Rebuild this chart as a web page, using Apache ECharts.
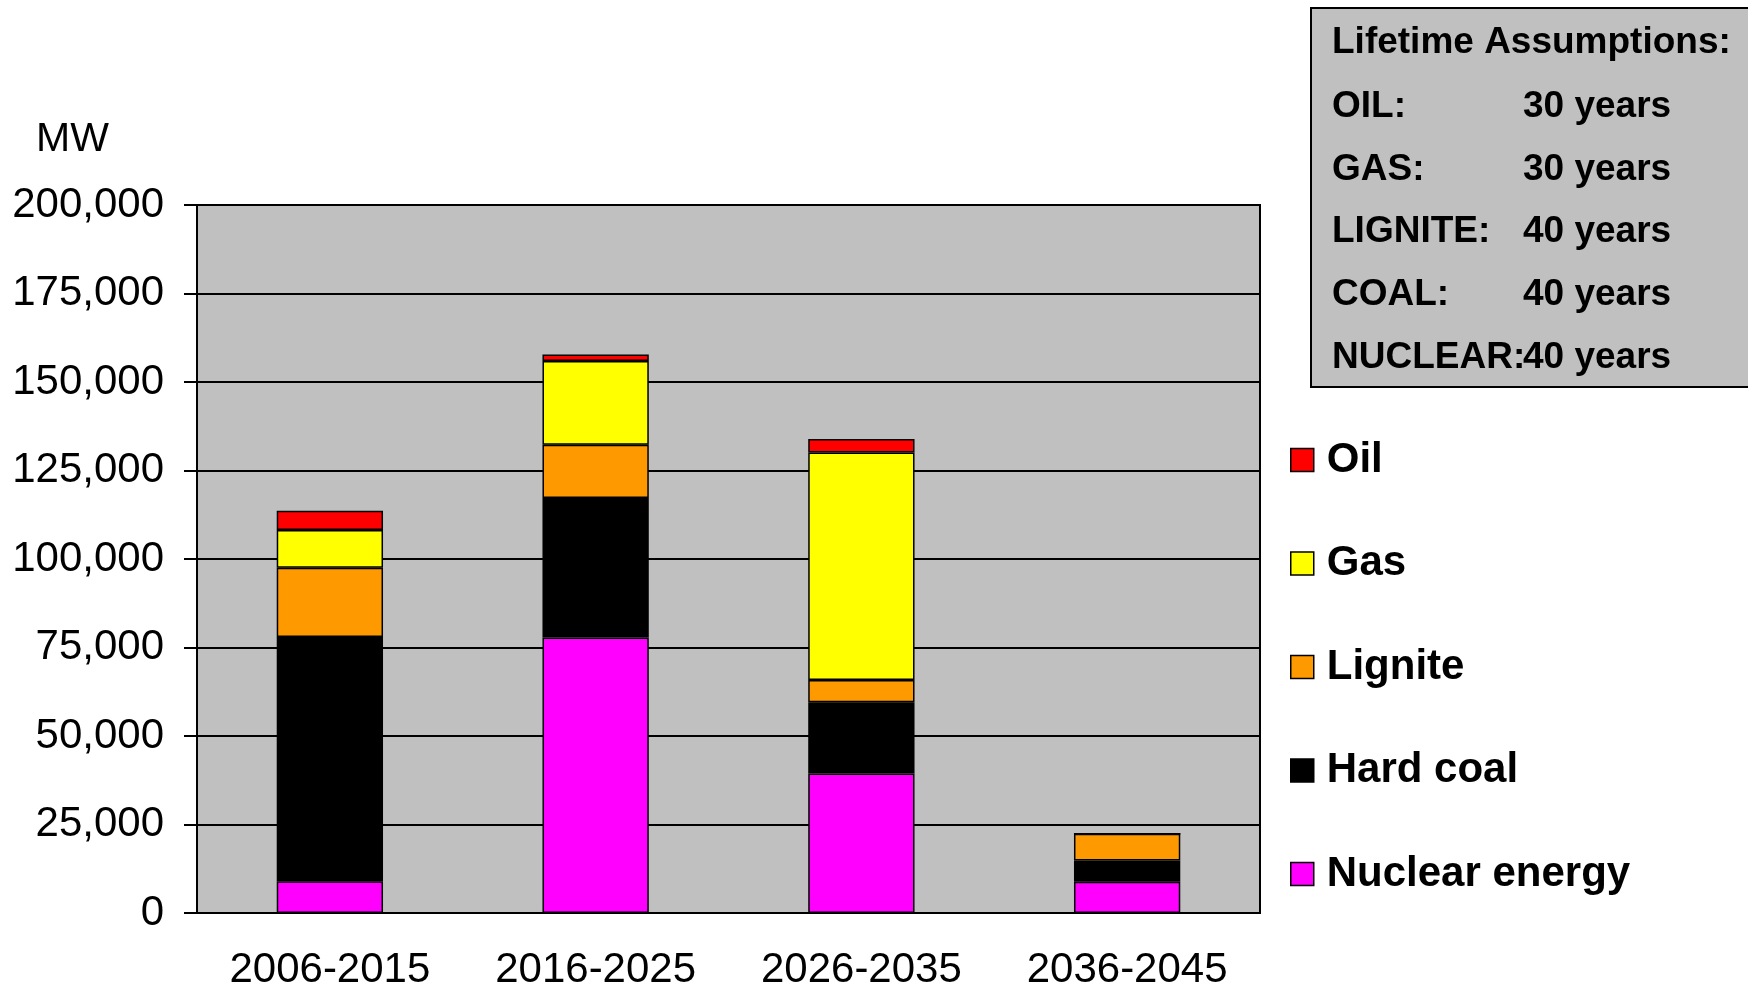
<!DOCTYPE html>
<html>
<head>
<meta charset="utf-8">
<script src="https://cdn.jsdelivr.net/npm/echarts@6/dist/echarts.min.js"></script>
<style>
  html, body { margin: 0; padding: 0; background: #fff; }
  #chart { width: 1748px; height: 985px; }
</style>
</head>
<body>
<div id="chart"></div>
<script>
const periods = ['2006-2015', '2016-2025', '2026-2035', '2036-2045']
const nuclear = [9000, 77800, 39400, 8800]
const hardCoal = [69000, 39400, 20100, 6000]
const lignite = [19500, 15100, 6300, 7600]
const gas = [10700, 23600, 64300, 0]
const oil = [5400, 1900, 3800, 0]

const yTicks = [0, 25000, 50000, 75000, 100000, 125000, 150000, 175000, 200000]

const fuelLabels = ['OIL:', 'GAS:', 'LIGNITE:', 'COAL:', 'NUCLEAR:']
const lifetimes = [30, 30, 40, 40, 40]

const font = 'Arial, "Liberation Sans", sans-serif'

const seriesDefs = [
  { name: 'Nuclear energy', data: nuclear, color: '#FF00FF' },
  { name: 'Hard coal', data: hardCoal, color: '#000000' },
  { name: 'Lignite', data: lignite, color: '#FF9900' },
  { name: 'Gas', data: gas, color: '#FFFF00' },
  { name: 'Oil', data: oil, color: '#FF0000' }
]

// info box on the top right
const boxFont = 'bold 37px ' + font
const boxTexts = [{
  type: 'text',
  style: { text: 'Lifetime Assumptions:', x: 1332, y: 43, verticalAlign: 'middle', font: boxFont, fill: '#000' }
}]
fuelLabels.forEach((lab, i) => {
  const y = 107 + i * 62.6
  boxTexts.push({
    type: 'text',
    style: { text: lab, x: 1332, y: y, verticalAlign: 'middle', font: boxFont, fill: '#000' }
  })
  boxTexts.push({
    type: 'text',
    style: { text: lifetimes[i] + ' years', x: 1523, y: y, verticalAlign: 'middle', font: boxFont, fill: '#000' }
  })
})

const chart = echarts.init(document.getElementById('chart'))
const option = {
  backgroundColor: '#ffffff',
  animation: false,
  grid: {
    left: 197,
    right: 488,
    top: 205,
    bottom: 72,
    outerBoundsMode: 'none',
    containLabel: false,
    show: true,
    backgroundColor: '#C0C0C0',
    borderColor: '#000',
    borderWidth: 2
  },
  legend: {
    orient: 'vertical',
    left: 1285,
    top: 434,
    data: ['Oil', 'Gas', 'Lignite', 'Hard coal', 'Nuclear energy'],
    icon: 'rect',
    itemWidth: 23,
    itemHeight: 23,
    itemGap: 61.5,
    itemStyle: { borderColor: '#000', borderWidth: 1.5 },
    textStyle: {
      fontFamily: font,
      fontSize: 42,
      fontWeight: 'bold',
      color: '#000',
      lineHeight: 40,
      padding: [0, 0, 0, 8]
    }
  },
  xAxis: {
    type: 'category',
    data: periods,
    axisLine: { lineStyle: { color: '#000', width: 2 } },
    axisTick: { length: 11, lineStyle: { color: '#000', width: 2 } },
    axisLabel: { margin: 36, fontFamily: font, fontSize: 42, color: '#000' }
  },
  yAxis: {
    type: 'value',
    min: 0,
    max: 200000,
    interval: 25000,
    axisLine: { show: true, lineStyle: { color: '#000', width: 2 } },
    axisTick: { show: true, length: 13, lineStyle: { color: '#000', width: 2 } },
    splitLine: { lineStyle: { color: '#000', width: 2 } },
    axisLabel: {
      margin: 33,
      fontFamily: font,
      fontSize: 42,
      color: '#000',
      formatter: v => yTicks.includes(v) ? v.toLocaleString('en-US') : ''
    }
  },
  series: seriesDefs.map(s => ({
    name: s.name,
    type: 'bar',
    stack: 'total',
    barWidth: '40%',
    data: s.data,
    itemStyle: { color: s.color, borderColor: '#000', borderWidth: 1.5 }
  })),
  graphic: [
    {
      type: 'text',
      style: { text: 'MW', x: 36, y: 140, verticalAlign: 'middle', font: '41px ' + font, fill: '#000' }
    },
    {
      type: 'rect',
      shape: { x: 1311, y: 8, width: 460, height: 379 },
      style: { fill: '#C0C0C0', stroke: '#000', lineWidth: 2 }
    }
  ].concat(boxTexts)
}
chart.setOption(option)
</script>
</body>
</html>
